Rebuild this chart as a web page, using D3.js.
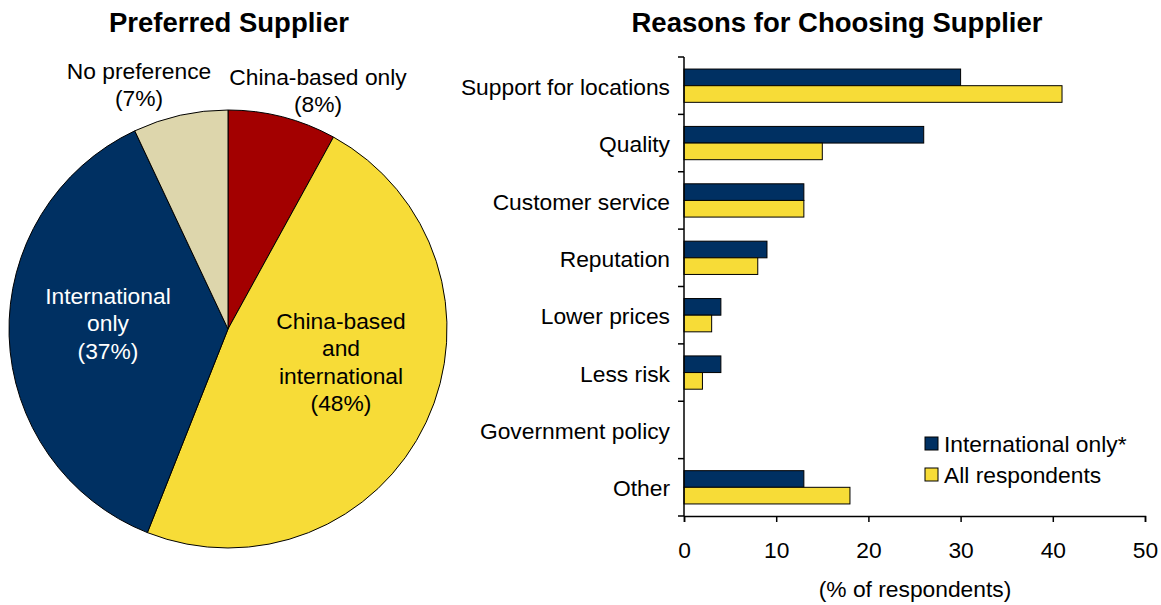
<!DOCTYPE html>
<html>
<head>
<meta charset="utf-8">
<script src="https://cdn.jsdelivr.net/npm/d3@7"></script>
<style>
  html, body { margin: 0; padding: 0; background: #fff; }
  svg { display: block; font-family: "Liberation Sans", Arial, sans-serif; }
</style>
</head>
<body>
<svg id="chart" width="1161" height="605"></svg>
<script>
// Preferred supplier shares (%)
const pieLabels = ["China-based only", "China-based and international", "International only", "No preference"];
const pieValues = [8, 48, 37, 7];
const pieColors = ["#a30000", "#f7dc37", "#003062", "#ddd6ac"];

// Reasons for choosing supplier (% of respondents)
const reasons = ["Support for locations", "Quality", "Customer service", "Reputation",
                 "Lower prices", "Less risk", "Government policy", "Other"];
const internationalOnly = [30, 26, 13, 9, 4, 4, 0, 13];
const allRespondents = [41, 15, 13, 8, 3, 2, 0, 18];
const seriesNames = ["International only*", "All respondents"];
const seriesColors = ["#003062", "#f7dc37"];
const xTicks = [0, 10, 20, 30, 40, 50];

(function draw() {
  const svg = d3.select("#chart");
  const fontSize = 22.8;
  const titleSize = 27.5;

  // ---------- Pie ----------
  const cx = 228, cy = 329, r = 219;
  const pieG = svg.append("g").attr("transform", `translate(${cx},${cy})`);
  const pie = d3.pie().sort(null).value(d => d);
  const arcs = pie(pieValues);
  const arc = d3.arc().innerRadius(0).outerRadius(r);

  pieG.selectAll("path").data(arcs).join("path")
    .attr("d", arc)
    .attr("fill", (d, i) => pieColors[i])
    .attr("stroke", "#000")
    .attr("stroke-width", 1);

  svg.append("text").attr("x", 229).attr("y", 32)
    .attr("text-anchor", "middle").attr("font-weight", "bold").attr("font-size", titleSize)
    .text("Preferred Supplier");

  // Slice labels: lines, anchor position, colour
  const pieText = [
    { lines: ["China-based only", `(${pieValues[0]}%)`], x: 318, y: 85, fill: "#000" },
    { lines: ["China-based", "and", "international", `(${pieValues[1]}%)`], x: 341, y: 329, fill: "#000" },
    { lines: ["International", "only", `(${pieValues[2]}%)`], x: 108, y: 304, fill: "#fff" },
    { lines: ["No preference", `(${pieValues[3]}%)`], x: 139, y: 79, fill: "#000" }
  ];
  pieText.forEach(t => {
    const txt = svg.append("text")
      .attr("text-anchor", "middle").attr("font-size", fontSize).attr("fill", t.fill);
    t.lines.forEach((ln, k) => {
      txt.append("tspan").attr("x", t.x).attr("y", t.y + k * 27.3).text(ln);
    });
  });

  // ---------- Bars ----------
  const plotLeft = 684, plotRight = 1145, plotTop = 57, plotBottom = 516;
  svg.append("text").attr("x", 837).attr("y", 32)
    .attr("text-anchor", "middle").attr("font-weight", "bold").attr("font-size", titleSize)
    .text("Reasons for Choosing Supplier");

  const x = d3.scaleLinear().domain([0, 50]).range([plotLeft, plotRight]);
  const y = d3.scaleBand().domain(reasons).range([plotTop, plotBottom]).paddingInner(0.42).paddingOuter(0.21);
  const sub = d3.scaleBand().domain([0, 1]).range([0, y.bandwidth()]);

  const rows = svg.append("g").selectAll("g").data(reasons).join("g")
    .attr("transform", d => `translate(0,${y(d)})`);

  rows.each(function(d, i) {
    const vals = [internationalOnly[i], allRespondents[i]];
    d3.select(this).selectAll("rect").data(vals).join("rect")
      .attr("x", x(0))
      .attr("y", (v, j) => sub(j))
      .attr("width", v => x(v) - x(0))
      .attr("height", sub.bandwidth())
      .attr("fill", (v, j) => seriesColors[j])
      .attr("stroke", v => v > 0 ? "#000" : "none")
      .attr("stroke-width", 1);
  });

  // Left category axis with ticks between categories
  const bandStep = (plotBottom - plotTop) / reasons.length;
  const axisG = svg.append("g").attr("stroke", "#000").attr("stroke-width", 1.5);
  axisG.append("line").attr("x1", plotLeft).attr("x2", plotLeft).attr("y1", plotTop).attr("y2", plotBottom);
  d3.range(reasons.length + 1).forEach(k => {
    axisG.append("line").attr("x1", plotLeft - 6).attr("x2", plotLeft)
      .attr("y1", plotTop + k * bandStep).attr("y2", plotTop + k * bandStep);
  });
  svg.append("g").selectAll("text").data(reasons).join("text")
    .attr("x", 670)
    .attr("y", d => y(d) + y.bandwidth() / 2)
    .attr("dy", "0.4em")
    .attr("text-anchor", "end")
    .attr("font-size", fontSize)
    .text(d => d);

  // Bottom value axis
  const xAxis = svg.append("g").attr("transform", `translate(0,${plotBottom})`)
    .call(d3.axisBottom(x).tickValues(xTicks).tickSize(6).tickPadding(20));
  xAxis.select(".domain").attr("stroke", "#000").attr("stroke-width", 1.5);
  xAxis.selectAll(".tick line").attr("stroke", "#000").attr("stroke-width", 1.5);
  xAxis.selectAll(".tick text").attr("font-size", fontSize).attr("fill", "#000")
    .attr("font-family", "'Liberation Sans', Arial, sans-serif");

  svg.append("text").attr("x", 915).attr("y", 597)
    .attr("text-anchor", "middle").attr("font-size", fontSize)
    .text("(% of respondents)");

  // Legend
  const legend = svg.append("g").selectAll("g").data(seriesNames).join("g")
    .attr("transform", (d, i) => `translate(925,${437 + i * 31})`);
  legend.append("rect").attr("width", 13).attr("height", 13)
    .attr("fill", (d, i) => seriesColors[i]).attr("stroke", "#000").attr("stroke-width", 1);
  legend.append("text").attr("x", 19).attr("y", 7).attr("dy", "0.37em")
    .attr("font-size", fontSize).text(d => d);
})();
</script>
</body>
</html>
